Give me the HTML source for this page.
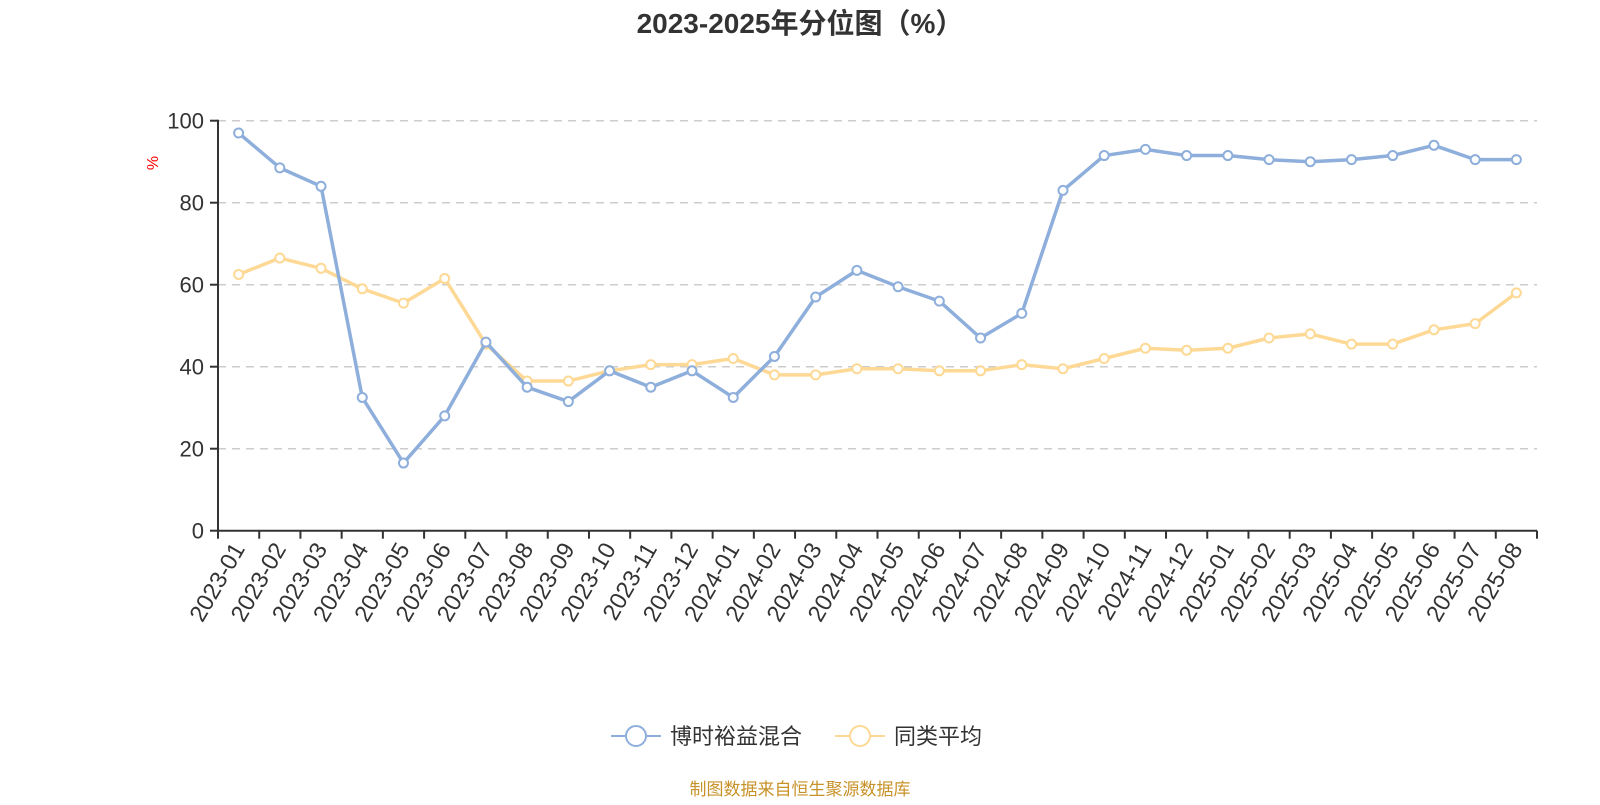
<!DOCTYPE html>
<html><head><meta charset="utf-8"><style>
body{margin:0;background:#fff;width:1600px;height:800px;overflow:hidden;font-family:"Liberation Sans","Noto Sans CJK SC",sans-serif}
</style></head><body>
<svg id="c" width="1600" height="800" xmlns="http://www.w3.org/2000/svg">
<text x="800" y="33" text-anchor="middle" font-size="28" font-weight="bold" fill="#333" font-family="Liberation Sans,Noto Sans CJK SC,sans-serif">2023-2025年分位图（%）</text>
<text transform="translate(158,163) rotate(-90)" text-anchor="middle" font-size="16" fill="#f00">%</text>
<g id="grid"></g><g id="axes"></g><g id="series"></g>
<g>
<g><line x1="611" y1="736" x2="661" y2="736" stroke="#8eaedb" stroke-width="2"/><circle cx="636" cy="736" r="10" fill="#fff" stroke="#8eaedb" stroke-width="2"/><text x="670" y="744" font-size="22" fill="#333" font-family="Liberation Sans,Noto Sans CJK SC,sans-serif">博时裕益混合</text></g>
<g><line x1="835" y1="736" x2="885" y2="736" stroke="#fdd995" stroke-width="2"/><circle cx="860" cy="736" r="10" fill="#fff" stroke="#fdd995" stroke-width="2"/><text x="894" y="744" font-size="22" fill="#333" font-family="Liberation Sans,Noto Sans CJK SC,sans-serif">同类平均</text></g>
</g>
<text x="800" y="795" text-anchor="middle" font-size="17" fill="#c8922a" font-family="Liberation Sans,Noto Sans CJK SC,sans-serif">制图数据来自恒生聚源数据库</text>
</svg>
<script>
const categories=["2023-01","2023-02","2023-03","2023-04","2023-05","2023-06","2023-07","2023-08","2023-09","2023-10","2023-11","2023-12","2024-01","2024-02","2024-03","2024-04","2024-05","2024-06","2024-07","2024-08","2024-09","2024-10","2024-11","2024-12","2025-01","2025-02","2025-03","2025-04","2025-05","2025-06","2025-07","2025-08"];
const fundValues=[97,88.5,84,32.5,16.5,28,46,35,31.5,39,35,39,32.5,42.5,57,63.5,59.5,56,47,53,83,91.5,93,91.5,91.5,90.5,90,90.5,91.5,94,90.5,90.5];
const avgValues=[62.5,66.5,64,59,55.5,61.5,45.5,36.5,36.5,39,40.5,40.5,42,38,38,39.5,39.5,39,39,40.5,39.5,42,44.5,44,44.5,47,48,45.5,45.5,49,50.5,58];
const yTicks=[0,20,40,60,80,100];
const NS="http://www.w3.org/2000/svg";
const X0=218,X1=1537,Y0=530.7,Y1=120.7;
const bw=(X1-X0)/categories.length;
const xs=i=>X0+bw*(i+0.5);
const ys=v=>Y0-(v/100)*(Y0-Y1);
function mk(tag,attrs,parent){const e=document.createElementNS(NS,tag);for(const k in attrs)e.setAttribute(k,attrs[k]);parent.appendChild(e);return e;}
const grid=document.getElementById('grid'),axes=document.getElementById('axes'),ser=document.getElementById('series');
yTicks.forEach(t=>{
 if(t>0){const g=mk('line',{x1:X0,x2:X1,y1:ys(t),y2:ys(t),stroke:'#ccc','stroke-dasharray':'8,6','stroke-width':1.5},grid);
 
 }
 const tk=mk('line',{x1:X0-8,x2:X0,y1:ys(t),y2:ys(t),stroke:'#333','stroke-width':2},axes);
 
 
 const l=mk('text',{x:X0-14,y:ys(t)+8,'text-anchor':'end','font-size':22,fill:'#333'},axes);
 l.textContent=t;
 
 
});
const ya=mk('line',{x1:X0,x2:X0,y1:Y1-1,y2:Y0,stroke:'#333','stroke-width':2},axes);


const xa=mk('line',{x1:X0,x2:X1,y1:Y0,y2:Y0,stroke:'#333','stroke-width':2},axes);


for(let i=0;i<=categories.length;i++){
 const t=mk('line',{x1:X0+bw*i,x2:X0+bw*i,y1:Y0,y2:Y0+8,stroke:'#333','stroke-width':2},axes);
 
 
}
categories.forEach((c,i)=>{
 const x=xs(i),y=Y0+14;
 const l=mk('text',{x:x,y:y,'text-anchor':'end','font-size':23.5,fill:'#333',transform:`rotate(-60 ${x} ${y}) translate(0 8)`},axes);
 l.textContent=c;
 
 
});
function series(vals,color,name){
 const g=mk('g',{},ser);
 
 
 const p=mk('polyline',{points:vals.map((v,i)=>xs(i)+','+ys(v)).join(' '),fill:'none',stroke:color,'stroke-width':3.5,'stroke-linejoin':'round'},g);
 
 
 vals.forEach((v,i)=>{
  const c=mk('circle',{cx:xs(i),cy:ys(v),r:4.5,fill:'#fff',stroke:color,'stroke-width':2},g);
  
  
 });
}
series(avgValues,'#fdd995','average-series');
series(fundValues,'#8eaedb','fund-series');
</script>
</body></html>
